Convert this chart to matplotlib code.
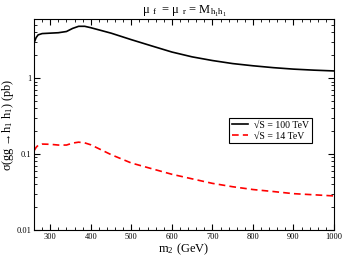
import matplotlib
matplotlib.use("Agg")
import matplotlib.pyplot as plt
import numpy as np
from matplotlib.ticker import FixedLocator, MultipleLocator, LogLocator, NullFormatter

plt.rcParams['font.family'] = ['Liberation Serif', 'DejaVu Serif']
plt.rcParams['mathtext.fontset'] = 'stix'

# m2 in GeV
m2 = [260, 265, 270, 280, 300, 320, 340, 355, 370, 385, 400, 450, 500,
      550, 600, 650, 700, 750, 800, 850, 900, 950, 1000]
# sqrt(S) = 100 TeV cross section (pb)
sig_100 = [2.9, 3.4, 3.7, 3.85, 3.9, 3.95, 4.1, 4.5, 4.8, 4.8, 4.6, 3.9, 3.2,
           2.65, 2.2, 1.9, 1.7, 1.55, 1.45, 1.37, 1.31, 1.27, 1.24]
# sqrt(S) = 14 TeV cross section (pb)
sig_14 = [0.11, 0.122, 0.13, 0.135, 0.134, 0.131, 0.131, 0.139, 0.143, 0.14, 0.132,
          0.098, 0.076, 0.064, 0.054, 0.047, 0.041, 0.037, 0.034, 0.032, 0.030,
          0.029, 0.028]

fig = plt.figure(figsize=(3.44, 2.56), dpi=100)
ax = fig.add_axes([0.099, 0.102, 0.872, 0.824])

ax.plot(m2, sig_100, color='black', lw=1.2, label='√S = 100 TeV')
ax.plot(m2, sig_14, color='red', lw=1.2, ls=(0, (4, 2.5)), label='√S = 14 TeV')

ax.set_yscale('log')
ax.set_xlim(260, 1000)
ax.set_ylim(0.01, 6)
ax.xaxis.set_major_locator(FixedLocator([300, 400, 500, 600, 700, 800, 900, 1000]))
ax.xaxis.set_minor_locator(MultipleLocator(20))
ax.yaxis.set_major_locator(FixedLocator([0.01, 0.1, 1]))
ax.set_yticklabels(['0.01', '0.1', '1'])
ax.yaxis.set_minor_locator(LogLocator(base=10, subs=np.arange(2, 10)))
ax.yaxis.set_minor_formatter(NullFormatter())
ax.tick_params(which='both', direction='in', top=True, right=True, labelsize=6)
ax.tick_params(which='major', length=4, width=0.8)
ax.tick_params(which='minor', length=2, width=0.6)
ax.tick_params(axis='both', pad=2)

ax.set_xlabel(r'm$_{\mathregular{2}}$ (GeV)', fontsize=9, labelpad=1)
ax.set_ylabel(r'σ(gg →h$_{\mathregular{1}}$ h$_{\mathregular{1}}$) (pb)', fontsize=8.8, labelpad=0)
ax.set_title(r'μ $_{\mathregular{f}}$  = μ $_{\mathregular{r}}$ = M$_{\mathregular{h_1 h_1}}$',
             fontsize=9, pad=3)

leg = ax.legend(loc='upper left', bbox_to_anchor=(0.635, 0.555), fontsize=7,
                frameon=True, fancybox=False, edgecolor='black', framealpha=1,
                handlelength=1.6, borderpad=0.3, labelspacing=0.2, handletextpad=0.6)
leg.get_frame().set_linewidth(0.8)

fig.savefig('out.png', dpi=100)
